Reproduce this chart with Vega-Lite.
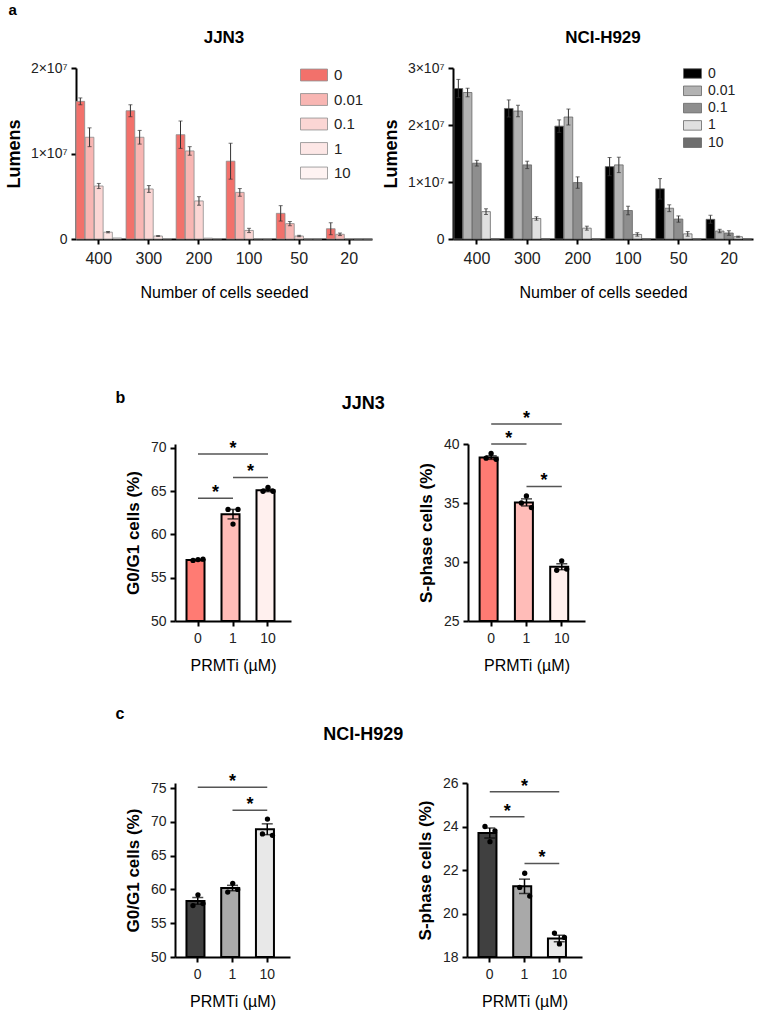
{
  "$schema": "https://vega.github.io/schema/vega-lite/v6.json",
  "background": "white",
  "padding": {"left": 5, "top": 3, "right": 5, "bottom": 5},
  "config": {
    "font": "Liberation Sans",
    "view": {"stroke": null},
    "axis": {"domainColor": "#000", "domainWidth": 2, "tickColor": "#000", "tickWidth": 2, "tickSize": 5, "labelColor": "#222", "titleColor": "#000", "grid": false, "labelOverlap": false},
    "axisX": {"labelAngle": 0},
    "title": {"color": "#000"}
  },
  "datasets": {
    "lum": [
      {"line": "JJN3", "cells": "400", "dose": "0", "mean": 16100000, "lo": 15700000, "hi": 16500000},
      {"line": "JJN3", "cells": "400", "dose": "0.01", "mean": 11900000, "lo": 10800000, "hi": 13000000},
      {"line": "JJN3", "cells": "400", "dose": "0.1", "mean": 6200000, "lo": 5900000, "hi": 6500000},
      {"line": "JJN3", "cells": "400", "dose": "1", "mean": 800000, "lo": 720000, "hi": 880000},
      {"line": "JJN3", "cells": "400", "dose": "10", "mean": 120000, "lo": null, "hi": null},
      {"line": "JJN3", "cells": "300", "dose": "0", "mean": 15000000, "lo": 14300000, "hi": 15700000},
      {"line": "JJN3", "cells": "300", "dose": "0.01", "mean": 11900000, "lo": 11100000, "hi": 12700000},
      {"line": "JJN3", "cells": "300", "dose": "0.1", "mean": 5850000, "lo": 5450000, "hi": 6250000},
      {"line": "JJN3", "cells": "300", "dose": "1", "mean": 350000, "lo": 300000, "hi": 400000},
      {"line": "JJN3", "cells": "300", "dose": "10", "mean": 50000, "lo": null, "hi": null},
      {"line": "JJN3", "cells": "200", "dose": "0", "mean": 12200000, "lo": 10600000, "hi": 13800000},
      {"line": "JJN3", "cells": "200", "dose": "0.01", "mean": 10300000, "lo": 9800000, "hi": 10800000},
      {"line": "JJN3", "cells": "200", "dose": "0.1", "mean": 4450000, "lo": 3950000, "hi": 4950000},
      {"line": "JJN3", "cells": "200", "dose": "1", "mean": 100000, "lo": null, "hi": null},
      {"line": "JJN3", "cells": "200", "dose": "10", "mean": 50000, "lo": null, "hi": null},
      {"line": "JJN3", "cells": "100", "dose": "0", "mean": 9100000, "lo": 7000000, "hi": 11200000},
      {"line": "JJN3", "cells": "100", "dose": "0.01", "mean": 5450000, "lo": 5000000, "hi": 5900000},
      {"line": "JJN3", "cells": "100", "dose": "0.1", "mean": 1000000, "lo": 750000, "hi": 1250000},
      {"line": "JJN3", "cells": "100", "dose": "1", "mean": 50000, "lo": null, "hi": null},
      {"line": "JJN3", "cells": "100", "dose": "10", "mean": 20000, "lo": null, "hi": null},
      {"line": "JJN3", "cells": "50", "dose": "0", "mean": 3000000, "lo": 2100000, "hi": 3900000},
      {"line": "JJN3", "cells": "50", "dose": "0.01", "mean": 1800000, "lo": 1550000, "hi": 2050000},
      {"line": "JJN3", "cells": "50", "dose": "0.1", "mean": 350000, "lo": 270000, "hi": 430000},
      {"line": "JJN3", "cells": "50", "dose": "1", "mean": 20000, "lo": null, "hi": null},
      {"line": "JJN3", "cells": "50", "dose": "10", "mean": 10000, "lo": null, "hi": null},
      {"line": "JJN3", "cells": "20", "dose": "0", "mean": 1200000, "lo": 500000, "hi": 1900000},
      {"line": "JJN3", "cells": "20", "dose": "0.01", "mean": 550000, "lo": 400000, "hi": 700000},
      {"line": "JJN3", "cells": "20", "dose": "0.1", "mean": 50000, "lo": null, "hi": null},
      {"line": "JJN3", "cells": "20", "dose": "1", "mean": 10000, "lo": null, "hi": null},
      {"line": "JJN3", "cells": "20", "dose": "10", "mean": 0, "lo": null, "hi": null},
      {"line": "NCI", "cells": "400", "dose": "0", "mean": 26400000, "lo": 24800000, "hi": 28000000},
      {"line": "NCI", "cells": "400", "dose": "0.01", "mean": 25700000, "lo": 24950000, "hi": 26450000},
      {"line": "NCI", "cells": "400", "dose": "0.1", "mean": 13300000, "lo": 12800000, "hi": 13800000},
      {"line": "NCI", "cells": "400", "dose": "1", "mean": 4800000, "lo": 4300000, "hi": 5300000},
      {"line": "NCI", "cells": "400", "dose": "10", "mean": 0, "lo": null, "hi": null},
      {"line": "NCI", "cells": "300", "dose": "0", "mean": 22900000, "lo": 21400000, "hi": 24400000},
      {"line": "NCI", "cells": "300", "dose": "0.01", "mean": 22450000, "lo": 21450000, "hi": 23450000},
      {"line": "NCI", "cells": "300", "dose": "0.1", "mean": 13000000, "lo": 12350000, "hi": 13650000},
      {"line": "NCI", "cells": "300", "dose": "1", "mean": 3600000, "lo": 3300000, "hi": 3900000},
      {"line": "NCI", "cells": "300", "dose": "10", "mean": 0, "lo": null, "hi": null},
      {"line": "NCI", "cells": "200", "dose": "0", "mean": 19800000, "lo": 18700000, "hi": 20900000},
      {"line": "NCI", "cells": "200", "dose": "0.01", "mean": 21400000, "lo": 20000000, "hi": 22800000},
      {"line": "NCI", "cells": "200", "dose": "0.1", "mean": 9900000, "lo": 8900000, "hi": 10900000},
      {"line": "NCI", "cells": "200", "dose": "1", "mean": 1900000, "lo": 1550000, "hi": 2250000},
      {"line": "NCI", "cells": "200", "dose": "10", "mean": 0, "lo": null, "hi": null},
      {"line": "NCI", "cells": "100", "dose": "0", "mean": 12700000, "lo": 11100000, "hi": 14300000},
      {"line": "NCI", "cells": "100", "dose": "0.01", "mean": 13000000, "lo": 11650000, "hi": 14350000},
      {"line": "NCI", "cells": "100", "dose": "0.1", "mean": 5000000, "lo": 4250000, "hi": 5750000},
      {"line": "NCI", "cells": "100", "dose": "1", "mean": 800000, "lo": 500000, "hi": 1100000},
      {"line": "NCI", "cells": "100", "dose": "10", "mean": 0, "lo": null, "hi": null},
      {"line": "NCI", "cells": "50", "dose": "0", "mean": 8800000, "lo": 7000000, "hi": 10600000},
      {"line": "NCI", "cells": "50", "dose": "0.01", "mean": 5400000, "lo": 4800000, "hi": 6000000},
      {"line": "NCI", "cells": "50", "dose": "0.1", "mean": 3500000, "lo": 2950000, "hi": 4050000},
      {"line": "NCI", "cells": "50", "dose": "1", "mean": 900000, "lo": 500000, "hi": 1300000},
      {"line": "NCI", "cells": "50", "dose": "10", "mean": 0, "lo": null, "hi": null},
      {"line": "NCI", "cells": "20", "dose": "0", "mean": 3450000, "lo": 2750000, "hi": 4150000},
      {"line": "NCI", "cells": "20", "dose": "0.01", "mean": 1400000, "lo": 1100000, "hi": 1700000},
      {"line": "NCI", "cells": "20", "dose": "0.1", "mean": 1050000, "lo": 650000, "hi": 1450000},
      {"line": "NCI", "cells": "20", "dose": "1", "mean": 400000, "lo": 300000, "hi": 500000},
      {"line": "NCI", "cells": "20", "dose": "10", "mean": 0, "lo": null, "hi": null}
    ],
    "cyc": [
      {"panel": "bL", "dose": "0", "mean": 57.05, "lo": 56.97, "hi": 57.13},
      {"panel": "bL", "dose": "1", "mean": 62.35, "lo": 61.8, "hi": 62.9},
      {"panel": "bL", "dose": "10", "mean": 65.1, "lo": 64.95, "hi": 65.25},
      {"panel": "bR", "dose": "0", "mean": 38.85, "lo": 38.7, "hi": 39.0},
      {"panel": "bR", "dose": "1", "mean": 35.05, "lo": 34.75, "hi": 35.35},
      {"panel": "bR", "dose": "10", "mean": 29.6, "lo": 29.35, "hi": 29.85},
      {"panel": "cL", "dose": "0", "mean": 58.3, "lo": 57.8, "hi": 58.8},
      {"panel": "cL", "dose": "1", "mean": 60.2, "lo": 59.8, "hi": 60.6},
      {"panel": "cL", "dose": "10", "mean": 68.9, "lo": 68.1, "hi": 69.7},
      {"panel": "cR", "dose": "0", "mean": 23.7, "lo": 23.47, "hi": 23.93},
      {"panel": "cR", "dose": "1", "mean": 21.25, "lo": 20.92, "hi": 21.58},
      {"panel": "cR", "dose": "10", "mean": 18.85, "lo": 18.7, "hi": 19.0}
    ],
    "dots": [
      {"panel": "bL", "dose": "0", "rep": 1, "val": 57.0},
      {"panel": "bL", "dose": "0", "rep": 2, "val": 57.1},
      {"panel": "bL", "dose": "0", "rep": 3, "val": 57.15},
      {"panel": "bL", "dose": "1", "rep": 1, "val": 62.9},
      {"panel": "bL", "dose": "1", "rep": 2, "val": 61.2},
      {"panel": "bL", "dose": "1", "rep": 3, "val": 62.9},
      {"panel": "bL", "dose": "10", "rep": 1, "val": 65.0},
      {"panel": "bL", "dose": "10", "rep": 2, "val": 65.45},
      {"panel": "bL", "dose": "10", "rep": 3, "val": 65.0},
      {"panel": "bR", "dose": "0", "rep": 1, "val": 38.8},
      {"panel": "bR", "dose": "0", "rep": 2, "val": 39.2},
      {"panel": "bR", "dose": "0", "rep": 3, "val": 38.7},
      {"panel": "bR", "dose": "1", "rep": 1, "val": 35.0},
      {"panel": "bR", "dose": "1", "rep": 2, "val": 35.6},
      {"panel": "bR", "dose": "1", "rep": 3, "val": 34.6},
      {"panel": "bR", "dose": "10", "rep": 1, "val": 29.3},
      {"panel": "bR", "dose": "10", "rep": 2, "val": 30.1},
      {"panel": "bR", "dose": "10", "rep": 3, "val": 29.4},
      {"panel": "cL", "dose": "0", "rep": 1, "val": 57.6},
      {"panel": "cL", "dose": "0", "rep": 2, "val": 59.2},
      {"panel": "cL", "dose": "0", "rep": 3, "val": 57.9},
      {"panel": "cL", "dose": "1", "rep": 1, "val": 59.6},
      {"panel": "cL", "dose": "1", "rep": 2, "val": 60.9},
      {"panel": "cL", "dose": "1", "rep": 3, "val": 60.0},
      {"panel": "cL", "dose": "10", "rep": 1, "val": 68.2},
      {"panel": "cL", "dose": "10", "rep": 2, "val": 70.4},
      {"panel": "cL", "dose": "10", "rep": 3, "val": 68.0},
      {"panel": "cR", "dose": "0", "rep": 1, "val": 24.0},
      {"panel": "cR", "dose": "0", "rep": 2, "val": 23.3},
      {"panel": "cR", "dose": "0", "rep": 3, "val": 23.8},
      {"panel": "cR", "dose": "1", "rep": 1, "val": 21.2},
      {"panel": "cR", "dose": "1", "rep": 2, "val": 21.85},
      {"panel": "cR", "dose": "1", "rep": 3, "val": 20.8},
      {"panel": "cR", "dose": "10", "rep": 1, "val": 19.1},
      {"panel": "cR", "dose": "10", "rep": 2, "val": 18.6},
      {"panel": "cR", "dose": "10", "rep": 3, "val": 18.9}
    ],
    "sig": [
      {"panel": "bL", "from": "0", "to": "10", "mid": "1", "kind": "span", "y": 69.3, "label": "*"},
      {"panel": "bL", "from": "1", "to": "10", "mid": null, "kind": "adj", "y": 66.6, "label": "*"},
      {"panel": "bL", "from": "0", "to": "1", "mid": null, "kind": "adj", "y": 64.2, "label": "*"},
      {"panel": "bR", "from": "0", "to": "10", "mid": "1", "kind": "span", "y": 41.7, "label": "*"},
      {"panel": "bR", "from": "0", "to": "1", "mid": null, "kind": "adj", "y": 40.0, "label": "*"},
      {"panel": "bR", "from": "1", "to": "10", "mid": null, "kind": "adj", "y": 36.4, "label": "*"},
      {"panel": "cL", "from": "0", "to": "10", "mid": "1", "kind": "span", "y": 75.1, "label": "*"},
      {"panel": "cL", "from": "1", "to": "10", "mid": null, "kind": "adj", "y": 71.7, "label": "*"},
      {"panel": "cR", "from": "0", "to": "10", "mid": "1", "kind": "span", "y": 25.6, "label": "*"},
      {"panel": "cR", "from": "0", "to": "1", "mid": null, "kind": "adj", "y": 24.45, "label": "*"},
      {"panel": "cR", "from": "1", "to": "10", "mid": null, "kind": "adj", "y": 22.3, "label": "*"}
    ]
  },
  "center": true,
  "spacing": 89,
  "resolve": {"scale": {"color": "independent"}, "legend": {"color": "independent"}},
  "vconcat": [
    {
      "title": {"text": "a", "anchor": "start", "fontSize": 15, "fontWeight": "bold", "offset": 11, "dx": 3},
      "spacing": 9,
      "resolve": {"scale": {"color": "independent"}, "legend": {"color": "independent"}},
      "hconcat": [
        {
          "width": 296, "height": 171,
          "title": {"text": "JJN3", "fontSize": 17, "fontWeight": "bold", "offset": 14},
          "data": {"name": "lum"},
          "transform": [{"filter": "datum.line == 'JJN3'"}],
          "encoding": {
            "x": {"field": "cells", "type": "nominal", "sort": ["400", "300", "200", "100", "50", "20"], "scale": {"paddingInner": 0.09, "paddingOuter": 0}, "axis": {"title": "Number of cells seeded", "labelFontSize": 16, "titleFontSize": 16, "titleFontWeight": "normal", "labelPadding": 6, "titlePadding": 18}},
            "xOffset": {"field": "dose", "type": "nominal", "sort": ["0", "0.01", "0.1", "1", "10"], "scale": {"type": "band", "paddingInner": 0.06, "paddingOuter": 0}}
          },
          "layer": [
            {
              "mark": {"type": "bar", "stroke": "#8c8c8c", "strokeWidth": 0.8},
              "encoding": {
                "y": {"field": "mean", "type": "quantitative", "scale": {"domain": [0, 20000000], "nice": false}, "axis": {"title": "Lumens", "titleFontSize": 18, "titleFontWeight": "bold", "values": [0, 10000000, 20000000], "labelExpr": "datum.value == 0 ? '0' : format(datum.value / 10000000, 'd') + '×10⁷'", "labelFontSize": 14, "labelPadding": 4, "titlePadding": 7}},
                "color": {"field": "dose", "type": "nominal", "sort": ["0", "0.01", "0.1", "1", "10"], "scale": {"domain": ["0", "0.01", "0.1", "1", "10"], "range": ["#F2716B", "#F8B6B3", "#FBD6D4", "#FDE7E6", "#FEF3F2"]}, "legend": {"title": null, "orient": "none", "legendX": 224, "legendY": -7, "symbolType": "M-1,-0.44H1V0.44H-1Z", "symbolSize": 729, "symbolStrokeColor": "#8c8c8c", "symbolStrokeWidth": 0.8, "symbolOpacity": 1, "labelFontSize": 15, "labelColor": "#222", "labelOffset": 6, "rowPadding": 2.5}}
              }
            },
            {
              "transform": [{"filter": "datum.lo != null"}],
              "mark": {"type": "rule", "color": "#333", "strokeWidth": 1},
              "encoding": {"y": {"field": "lo", "type": "quantitative"}, "y2": {"field": "hi"}}
            },
            {
              "transform": [{"filter": "datum.lo != null"}],
              "mark": {"type": "tick", "color": "#333", "thickness": 1, "size": 4},
              "encoding": {"y": {"field": "lo", "type": "quantitative"}}
            },
            {
              "transform": [{"filter": "datum.lo != null"}],
              "mark": {"type": "tick", "color": "#333", "thickness": 1, "size": 4},
              "encoding": {"y": {"field": "hi", "type": "quantitative"}}
            }
          ]
        },
        {
          "width": 300, "height": 171,
          "title": {"text": "NCI-H929", "fontSize": 17, "fontWeight": "bold", "offset": 14},
          "data": {"name": "lum"},
          "transform": [{"filter": "datum.line == 'NCI'"}],
          "encoding": {
            "x": {"field": "cells", "type": "nominal", "sort": ["400", "300", "200", "100", "50", "20"], "scale": {"paddingInner": 0.09, "paddingOuter": 0.02}, "axis": {"title": "Number of cells seeded", "labelFontSize": 16, "titleFontSize": 16, "titleFontWeight": "normal", "labelPadding": 6, "titlePadding": 18}},
            "xOffset": {"field": "dose", "type": "nominal", "sort": ["0", "0.01", "0.1", "1", "10"], "scale": {"type": "band", "paddingInner": 0.06, "paddingOuter": 0}}
          },
          "layer": [
            {
              "mark": {"type": "bar", "stroke": "#666", "strokeWidth": 0.8},
              "encoding": {
                "y": {"field": "mean", "type": "quantitative", "scale": {"domain": [0, 30000000], "nice": false}, "axis": {"title": "Lumens", "titleFontSize": 18, "titleFontWeight": "bold", "values": [0, 10000000, 20000000, 30000000], "labelExpr": "datum.value == 0 ? '0' : format(datum.value / 10000000, 'd') + '×10⁷'", "labelFontSize": 14, "labelPadding": 4, "titlePadding": 7}},
                "color": {"field": "dose", "type": "nominal", "sort": ["0", "0.01", "0.1", "1", "10"], "scale": {"domain": ["0", "0.01", "0.1", "1", "10"], "range": ["#000000", "#B3B3B3", "#8E8E8E", "#E0E0E0", "#6E6E6E"]}, "legend": {"title": null, "orient": "none", "legendX": 230, "legendY": -4, "symbolType": "M-1,-0.53H1V0.53H-1Z", "symbolSize": 324, "symbolStrokeColor": "#666", "symbolStrokeWidth": 0.8, "symbolOpacity": 1, "labelFontSize": 14, "labelColor": "#222", "labelOffset": 6, "rowPadding": 0.3}}
              }
            },
            {
              "transform": [{"filter": "datum.lo != null"}],
              "mark": {"type": "rule", "color": "#333", "strokeWidth": 1},
              "encoding": {"y": {"field": "lo", "type": "quantitative"}, "y2": {"field": "hi"}}
            },
            {
              "transform": [{"filter": "datum.lo != null"}],
              "mark": {"type": "tick", "color": "#333", "thickness": 1, "size": 4},
              "encoding": {"y": {"field": "lo", "type": "quantitative"}}
            },
            {
              "transform": [{"filter": "datum.lo != null"}],
              "mark": {"type": "tick", "color": "#333", "thickness": 1, "size": 4},
              "encoding": {"y": {"field": "hi", "type": "quantitative"}}
            }
          ]
        }
      ]
    },
    {
      "spacing": 33,
      "resolve": {"scale": {"color": "independent"}, "legend": {"color": "independent"}},
      "vconcat": [
        {
          "title": {"text": "b", "anchor": "start", "fontSize": 16, "fontWeight": "bold", "offset": -11, "dx": -9},
          "resolve": {"scale": {"color": "independent"}, "legend": {"color": "independent"}},
          "vconcat": [
            {
              "title": {"text": "JJN3", "anchor": "middle", "fontSize": 18, "fontWeight": "bold", "offset": -3, "dx": -26},
              "spacing": 126,
              "resolve": {"scale": {"color": "independent"}, "legend": {"color": "independent"}},
              "hconcat": [
                {
                  "width": 116, "height": 177,
                  "encoding": {"x": {"field": "dose", "type": "nominal", "scale": {"domain": ["0", "1", "10"], "paddingInner": 0.343, "paddingOuter": 0.329}, "axis": {"title": "PRMTi (µM)", "labelFontSize": 14, "titleFontSize": 16, "titleFontWeight": "normal", "labelPadding": 5, "titlePadding": 12}}},
                  "layer": [
                    {"data": {"name": "cyc"}, "transform": [{"filter": "datum.panel == 'bL'"}], "mark": {"type": "bar", "stroke": "#000", "strokeWidth": 2},
                      "encoding": {
                        "y": {"field": "mean", "type": "quantitative", "scale": {"domain": [50, 70.46], "nice": false, "zero": false}, "axis": {"title": "G0/G1 cells (%)", "values": [50, 55, 60, 65, 70], "labelOverlap": false, "labelFontSize": 14, "titleFontSize": 17, "titleFontWeight": "bold", "labelPadding": 4, "titlePadding": 8}},
                        "y2": {"datum": 50},
                        "color": {"field": "dose", "type": "nominal", "scale": {"domain": ["0", "1", "10"], "range": ["#FF7B73", "#FFBCB8", "#FFF0EE"]}, "legend": null}
                      }},
                    {"data": {"name": "cyc"}, "transform": [{"filter": "datum.panel == 'bL'"}], "mark": {"type": "rule", "color": "#000", "strokeWidth": 1.5},
                      "encoding": {"y": {"field": "lo", "type": "quantitative", "axis": {"title": "G0/G1 cells (%)", "values": [50, 55, 60, 65, 70], "labelOverlap": false, "labelFontSize": 14, "titleFontSize": 17, "titleFontWeight": "bold", "labelPadding": 4, "titlePadding": 8}}, "y2": {"field": "hi"}}},
                    {"data": {"name": "cyc"}, "transform": [{"filter": "datum.panel == 'bL'"}], "mark": {"type": "tick", "color": "#000", "thickness": 1.5, "size": 11},
                      "encoding": {"y": {"field": "lo", "type": "quantitative", "axis": {"title": "G0/G1 cells (%)", "values": [50, 55, 60, 65, 70], "labelOverlap": false, "labelFontSize": 14, "titleFontSize": 17, "titleFontWeight": "bold", "labelPadding": 4, "titlePadding": 8}}}},
                    {"data": {"name": "cyc"}, "transform": [{"filter": "datum.panel == 'bL'"}], "mark": {"type": "tick", "color": "#000", "thickness": 1.5, "size": 11},
                      "encoding": {"y": {"field": "hi", "type": "quantitative", "axis": {"title": "G0/G1 cells (%)", "values": [50, 55, 60, 65, 70], "labelOverlap": false, "labelFontSize": 14, "titleFontSize": 17, "titleFontWeight": "bold", "labelPadding": 4, "titlePadding": 8}}}},
                    {"data": {"name": "dots"}, "transform": [{"filter": "datum.panel == 'bL'"}], "mark": {"type": "point", "filled": true, "color": "#000", "size": 28, "opacity": 1},
                      "encoding": {"xOffset": {"field": "rep", "type": "quantitative", "scale": {"domain": [1, 3], "range": [6.5, 16.5]}}, "y": {"field": "val", "type": "quantitative", "axis": {"title": "G0/G1 cells (%)", "values": [50, 55, 60, 65, 70], "labelOverlap": false, "labelFontSize": 14, "titleFontSize": 17, "titleFontWeight": "bold", "labelPadding": 4, "titlePadding": 8}}}},
                    {"data": {"name": "sig"}, "transform": [{"filter": "datum.panel == 'bL'"}], "mark": {"type": "rule", "color": "#555", "strokeWidth": 1.5},
                      "encoding": {"x": {"field": "from", "type": "nominal"}, "x2": {"field": "to"}, "y": {"field": "y", "type": "quantitative", "axis": {"title": "G0/G1 cells (%)", "values": [50, 55, 60, 65, 70], "labelOverlap": false, "labelFontSize": 14, "titleFontSize": 17, "titleFontWeight": "bold", "labelPadding": 4, "titlePadding": 8}}}},
                    {"data": {"name": "sig"}, "transform": [{"filter": "datum.panel == 'bL' && datum.kind == 'adj'"}], "mark": {"type": "text", "fontSize": 18, "fontWeight": "bold", "dx": 17.5, "baseline": "alphabetic", "color": "#000"},
                      "encoding": {"x": {"field": "from", "type": "nominal"}, "y": {"field": "y", "type": "quantitative", "axis": {"title": "G0/G1 cells (%)", "values": [50, 55, 60, 65, 70], "labelOverlap": false, "labelFontSize": 14, "titleFontSize": 17, "titleFontWeight": "bold", "labelPadding": 4, "titlePadding": 8}}, "text": {"field": "label"}}},
                    {"data": {"name": "sig"}, "transform": [{"filter": "datum.panel == 'bL' && datum.kind == 'span'"}], "mark": {"type": "text", "fontSize": 18, "fontWeight": "bold", "baseline": "alphabetic", "color": "#000"},
                      "encoding": {"x": {"field": "mid", "type": "nominal"}, "y": {"field": "y", "type": "quantitative", "axis": {"title": "G0/G1 cells (%)", "values": [50, 55, 60, 65, 70], "labelOverlap": false, "labelFontSize": 14, "titleFontSize": 17, "titleFontWeight": "bold", "labelPadding": 4, "titlePadding": 8}}, "text": {"field": "label"}}}
                  ]
                },
                {
                  "width": 186, "height": 177,
                  "encoding": {"x": {"field": "dose", "type": "nominal", "scale": {"domain": ["0", "1", "10"], "range": [0, 117], "paddingInner": 0.343, "paddingOuter": 0.329}, "axis": {"title": "PRMTi (µM)", "labelFontSize": 14, "titleFontSize": 16, "titleFontWeight": "normal", "labelPadding": 5, "titlePadding": 12}}},
                  "layer": [
                    {"data": {"name": "cyc"}, "transform": [{"filter": "datum.panel == 'bR'"}], "mark": {"type": "bar", "stroke": "#000", "strokeWidth": 2},
                      "encoding": {
                        "y": {"field": "mean", "type": "quantitative", "scale": {"domain": [25, 40], "nice": false, "zero": false}, "axis": {"title": "S-phase cells (%)", "values": [25, 30, 35, 40], "labelOverlap": false, "labelFontSize": 14, "titleFontSize": 17, "titleFontWeight": "bold", "labelPadding": 4, "titlePadding": 8}},
                        "y2": {"datum": 25},
                        "color": {"field": "dose", "type": "nominal", "scale": {"domain": ["0", "1", "10"], "range": ["#FF7B73", "#FFBCB8", "#FFF0EE"]}, "legend": null}
                      }},
                    {"data": {"name": "cyc"}, "transform": [{"filter": "datum.panel == 'bR'"}], "mark": {"type": "rule", "color": "#000", "strokeWidth": 1.5},
                      "encoding": {"y": {"field": "lo", "type": "quantitative", "axis": {"title": "S-phase cells (%)", "values": [25, 30, 35, 40], "labelOverlap": false, "labelFontSize": 14, "titleFontSize": 17, "titleFontWeight": "bold", "labelPadding": 4, "titlePadding": 8}}, "y2": {"field": "hi"}}},
                    {"data": {"name": "cyc"}, "transform": [{"filter": "datum.panel == 'bR'"}], "mark": {"type": "tick", "color": "#000", "thickness": 1.5, "size": 11},
                      "encoding": {"y": {"field": "lo", "type": "quantitative", "axis": {"title": "S-phase cells (%)", "values": [25, 30, 35, 40], "labelOverlap": false, "labelFontSize": 14, "titleFontSize": 17, "titleFontWeight": "bold", "labelPadding": 4, "titlePadding": 8}}}},
                    {"data": {"name": "cyc"}, "transform": [{"filter": "datum.panel == 'bR'"}], "mark": {"type": "tick", "color": "#000", "thickness": 1.5, "size": 11},
                      "encoding": {"y": {"field": "hi", "type": "quantitative", "axis": {"title": "S-phase cells (%)", "values": [25, 30, 35, 40], "labelOverlap": false, "labelFontSize": 14, "titleFontSize": 17, "titleFontWeight": "bold", "labelPadding": 4, "titlePadding": 8}}}},
                    {"data": {"name": "dots"}, "transform": [{"filter": "datum.panel == 'bR'"}], "mark": {"type": "point", "filled": true, "color": "#000", "size": 28, "opacity": 1},
                      "encoding": {"xOffset": {"field": "rep", "type": "quantitative", "scale": {"domain": [1, 3], "range": [6.5, 16.5]}}, "y": {"field": "val", "type": "quantitative", "axis": {"title": "S-phase cells (%)", "values": [25, 30, 35, 40], "labelOverlap": false, "labelFontSize": 14, "titleFontSize": 17, "titleFontWeight": "bold", "labelPadding": 4, "titlePadding": 8}}}},
                    {"data": {"name": "sig"}, "transform": [{"filter": "datum.panel == 'bR'"}], "mark": {"type": "rule", "color": "#555", "strokeWidth": 1.5},
                      "encoding": {"x": {"field": "from", "type": "nominal"}, "x2": {"field": "to"}, "y": {"field": "y", "type": "quantitative", "axis": {"title": "S-phase cells (%)", "values": [25, 30, 35, 40], "labelOverlap": false, "labelFontSize": 14, "titleFontSize": 17, "titleFontWeight": "bold", "labelPadding": 4, "titlePadding": 8}}}},
                    {"data": {"name": "sig"}, "transform": [{"filter": "datum.panel == 'bR' && datum.kind == 'adj'"}], "mark": {"type": "text", "fontSize": 18, "fontWeight": "bold", "dx": 17.5, "baseline": "alphabetic", "color": "#000"},
                      "encoding": {"x": {"field": "from", "type": "nominal"}, "y": {"field": "y", "type": "quantitative", "axis": {"title": "S-phase cells (%)", "values": [25, 30, 35, 40], "labelOverlap": false, "labelFontSize": 14, "titleFontSize": 17, "titleFontWeight": "bold", "labelPadding": 4, "titlePadding": 8}}, "text": {"field": "label"}}},
                    {"data": {"name": "sig"}, "transform": [{"filter": "datum.panel == 'bR' && datum.kind == 'span'"}], "mark": {"type": "text", "fontSize": 18, "fontWeight": "bold", "baseline": "alphabetic", "color": "#000"},
                      "encoding": {"x": {"field": "mid", "type": "nominal"}, "y": {"field": "y", "type": "quantitative", "axis": {"title": "S-phase cells (%)", "values": [25, 30, 35, 40], "labelOverlap": false, "labelFontSize": 14, "titleFontSize": 17, "titleFontWeight": "bold", "labelPadding": 4, "titlePadding": 8}}, "text": {"field": "label"}}}
                  ]
                }
              ]
            }
          ]
        },
        {
          "title": {"text": "c", "anchor": "start", "fontSize": 16, "fontWeight": "bold", "offset": 4, "dx": -9},
          "resolve": {"scale": {"color": "independent"}, "legend": {"color": "independent"}},
          "vconcat": [
            {
              "title": {"text": "NCI-H929", "anchor": "middle", "fontSize": 18, "fontWeight": "bold", "offset": 29, "dx": -26},
              "spacing": 126,
              "resolve": {"scale": {"color": "independent"}, "legend": {"color": "independent"}},
              "hconcat": [
                {
                  "width": 115, "height": 174,
                  "encoding": {"x": {"field": "dose", "type": "nominal", "scale": {"domain": ["0", "1", "10"], "paddingInner": 0.35, "paddingOuter": 0.33}, "axis": {"title": "PRMTi (µM)", "labelFontSize": 14, "titleFontSize": 16, "titleFontWeight": "normal", "labelPadding": 5, "titlePadding": 12}}},
                  "layer": [
                    {"data": {"name": "cyc"}, "transform": [{"filter": "datum.panel == 'cL'"}], "mark": {"type": "bar", "stroke": "#000", "strokeWidth": 2},
                      "encoding": {
                        "y": {"field": "mean", "type": "quantitative", "scale": {"domain": [50, 75.74], "nice": false, "zero": false}, "axis": {"title": "G0/G1 cells (%)", "values": [50, 55, 60, 65, 70, 75], "labelOverlap": false, "labelFontSize": 14, "titleFontSize": 17, "titleFontWeight": "bold", "labelPadding": 4, "titlePadding": 8}},
                        "y2": {"datum": 50},
                        "color": {"field": "dose", "type": "nominal", "scale": {"domain": ["0", "1", "10"], "range": ["#404040", "#A9A9A9", "#E8E8E8"]}, "legend": null}
                      }},
                    {"data": {"name": "cyc"}, "transform": [{"filter": "datum.panel == 'cL'"}], "mark": {"type": "rule", "color": "#000", "strokeWidth": 1.5},
                      "encoding": {"y": {"field": "lo", "type": "quantitative", "axis": {"title": "G0/G1 cells (%)", "values": [50, 55, 60, 65, 70, 75], "labelOverlap": false, "labelFontSize": 14, "titleFontSize": 17, "titleFontWeight": "bold", "labelPadding": 4, "titlePadding": 8}}, "y2": {"field": "hi"}}},
                    {"data": {"name": "cyc"}, "transform": [{"filter": "datum.panel == 'cL'"}], "mark": {"type": "tick", "color": "#000", "thickness": 1.5, "size": 11},
                      "encoding": {"y": {"field": "lo", "type": "quantitative", "axis": {"title": "G0/G1 cells (%)", "values": [50, 55, 60, 65, 70, 75], "labelOverlap": false, "labelFontSize": 14, "titleFontSize": 17, "titleFontWeight": "bold", "labelPadding": 4, "titlePadding": 8}}}},
                    {"data": {"name": "cyc"}, "transform": [{"filter": "datum.panel == 'cL'"}], "mark": {"type": "tick", "color": "#000", "thickness": 1.5, "size": 11},
                      "encoding": {"y": {"field": "hi", "type": "quantitative", "axis": {"title": "G0/G1 cells (%)", "values": [50, 55, 60, 65, 70, 75], "labelOverlap": false, "labelFontSize": 14, "titleFontSize": 17, "titleFontWeight": "bold", "labelPadding": 4, "titlePadding": 8}}}},
                    {"data": {"name": "dots"}, "transform": [{"filter": "datum.panel == 'cL'"}], "mark": {"type": "point", "filled": true, "color": "#000", "size": 28, "opacity": 1},
                      "encoding": {"xOffset": {"field": "rep", "type": "quantitative", "scale": {"domain": [1, 3], "range": [6.3, 16.3]}}, "y": {"field": "val", "type": "quantitative", "axis": {"title": "G0/G1 cells (%)", "values": [50, 55, 60, 65, 70, 75], "labelOverlap": false, "labelFontSize": 14, "titleFontSize": 17, "titleFontWeight": "bold", "labelPadding": 4, "titlePadding": 8}}}},
                    {"data": {"name": "sig"}, "transform": [{"filter": "datum.panel == 'cL'"}], "mark": {"type": "rule", "color": "#555", "strokeWidth": 1.5},
                      "encoding": {"x": {"field": "from", "type": "nominal"}, "x2": {"field": "to"}, "y": {"field": "y", "type": "quantitative", "axis": {"title": "G0/G1 cells (%)", "values": [50, 55, 60, 65, 70, 75], "labelOverlap": false, "labelFontSize": 14, "titleFontSize": 17, "titleFontWeight": "bold", "labelPadding": 4, "titlePadding": 8}}}},
                    {"data": {"name": "sig"}, "transform": [{"filter": "datum.panel == 'cL' && datum.kind == 'adj'"}], "mark": {"type": "text", "fontSize": 18, "fontWeight": "bold", "dx": 17.5, "baseline": "alphabetic", "color": "#000"},
                      "encoding": {"x": {"field": "from", "type": "nominal"}, "y": {"field": "y", "type": "quantitative", "axis": {"title": "G0/G1 cells (%)", "values": [50, 55, 60, 65, 70, 75], "labelOverlap": false, "labelFontSize": 14, "titleFontSize": 17, "titleFontWeight": "bold", "labelPadding": 4, "titlePadding": 8}}, "text": {"field": "label"}}},
                    {"data": {"name": "sig"}, "transform": [{"filter": "datum.panel == 'cL' && datum.kind == 'span'"}], "mark": {"type": "text", "fontSize": 18, "fontWeight": "bold", "baseline": "alphabetic", "color": "#000"},
                      "encoding": {"x": {"field": "mid", "type": "nominal"}, "y": {"field": "y", "type": "quantitative", "axis": {"title": "G0/G1 cells (%)", "values": [50, 55, 60, 65, 70, 75], "labelOverlap": false, "labelFontSize": 14, "titleFontSize": 17, "titleFontWeight": "bold", "labelPadding": 4, "titlePadding": 8}}, "text": {"field": "label"}}}
                  ]
                },
                {
                  "width": 187, "height": 174,
                  "encoding": {"x": {"field": "dose", "type": "nominal", "scale": {"domain": ["0", "1", "10"], "range": [0, 115], "paddingInner": 0.35, "paddingOuter": 0.33}, "axis": {"title": "PRMTi (µM)", "labelFontSize": 14, "titleFontSize": 16, "titleFontWeight": "normal", "labelPadding": 5, "titlePadding": 12}}},
                  "layer": [
                    {"data": {"name": "cyc"}, "transform": [{"filter": "datum.panel == 'cR'"}], "mark": {"type": "bar", "stroke": "#000", "strokeWidth": 2},
                      "encoding": {
                        "y": {"field": "mean", "type": "quantitative", "scale": {"domain": [18, 26], "nice": false, "zero": false}, "axis": {"title": "S-phase cells (%)", "values": [18, 20, 22, 24, 26], "labelOverlap": false, "labelFontSize": 14, "titleFontSize": 17, "titleFontWeight": "bold", "labelPadding": 4, "titlePadding": 8}},
                        "y2": {"datum": 18},
                        "color": {"field": "dose", "type": "nominal", "scale": {"domain": ["0", "1", "10"], "range": ["#404040", "#A9A9A9", "#E8E8E8"]}, "legend": null}
                      }},
                    {"data": {"name": "cyc"}, "transform": [{"filter": "datum.panel == 'cR'"}], "mark": {"type": "rule", "color": "#000", "strokeWidth": 1.5},
                      "encoding": {"y": {"field": "lo", "type": "quantitative", "axis": {"title": "S-phase cells (%)", "values": [18, 20, 22, 24, 26], "labelOverlap": false, "labelFontSize": 14, "titleFontSize": 17, "titleFontWeight": "bold", "labelPadding": 4, "titlePadding": 8}}, "y2": {"field": "hi"}}},
                    {"data": {"name": "cyc"}, "transform": [{"filter": "datum.panel == 'cR'"}], "mark": {"type": "tick", "color": "#000", "thickness": 1.5, "size": 11},
                      "encoding": {"y": {"field": "lo", "type": "quantitative", "axis": {"title": "S-phase cells (%)", "values": [18, 20, 22, 24, 26], "labelOverlap": false, "labelFontSize": 14, "titleFontSize": 17, "titleFontWeight": "bold", "labelPadding": 4, "titlePadding": 8}}}},
                    {"data": {"name": "cyc"}, "transform": [{"filter": "datum.panel == 'cR'"}], "mark": {"type": "tick", "color": "#000", "thickness": 1.5, "size": 11},
                      "encoding": {"y": {"field": "hi", "type": "quantitative", "axis": {"title": "S-phase cells (%)", "values": [18, 20, 22, 24, 26], "labelOverlap": false, "labelFontSize": 14, "titleFontSize": 17, "titleFontWeight": "bold", "labelPadding": 4, "titlePadding": 8}}}},
                    {"data": {"name": "dots"}, "transform": [{"filter": "datum.panel == 'cR'"}], "mark": {"type": "point", "filled": true, "color": "#000", "size": 28, "opacity": 1},
                      "encoding": {"xOffset": {"field": "rep", "type": "quantitative", "scale": {"domain": [1, 3], "range": [6.3, 16.3]}}, "y": {"field": "val", "type": "quantitative", "axis": {"title": "S-phase cells (%)", "values": [18, 20, 22, 24, 26], "labelOverlap": false, "labelFontSize": 14, "titleFontSize": 17, "titleFontWeight": "bold", "labelPadding": 4, "titlePadding": 8}}}},
                    {"data": {"name": "sig"}, "transform": [{"filter": "datum.panel == 'cR'"}], "mark": {"type": "rule", "color": "#555", "strokeWidth": 1.5},
                      "encoding": {"x": {"field": "from", "type": "nominal"}, "x2": {"field": "to"}, "y": {"field": "y", "type": "quantitative", "axis": {"title": "S-phase cells (%)", "values": [18, 20, 22, 24, 26], "labelOverlap": false, "labelFontSize": 14, "titleFontSize": 17, "titleFontWeight": "bold", "labelPadding": 4, "titlePadding": 8}}}},
                    {"data": {"name": "sig"}, "transform": [{"filter": "datum.panel == 'cR' && datum.kind == 'adj'"}], "mark": {"type": "text", "fontSize": 18, "fontWeight": "bold", "dx": 17.5, "baseline": "alphabetic", "color": "#000"},
                      "encoding": {"x": {"field": "from", "type": "nominal"}, "y": {"field": "y", "type": "quantitative", "axis": {"title": "S-phase cells (%)", "values": [18, 20, 22, 24, 26], "labelOverlap": false, "labelFontSize": 14, "titleFontSize": 17, "titleFontWeight": "bold", "labelPadding": 4, "titlePadding": 8}}, "text": {"field": "label"}}},
                    {"data": {"name": "sig"}, "transform": [{"filter": "datum.panel == 'cR' && datum.kind == 'span'"}], "mark": {"type": "text", "fontSize": 18, "fontWeight": "bold", "baseline": "alphabetic", "color": "#000"},
                      "encoding": {"x": {"field": "mid", "type": "nominal"}, "y": {"field": "y", "type": "quantitative", "axis": {"title": "S-phase cells (%)", "values": [18, 20, 22, 24, 26], "labelOverlap": false, "labelFontSize": 14, "titleFontSize": 17, "titleFontWeight": "bold", "labelPadding": 4, "titlePadding": 8}}, "text": {"field": "label"}}}
                  ]
                }
              ]
            }
          ]
        }
      ]
    }
  ]
}
